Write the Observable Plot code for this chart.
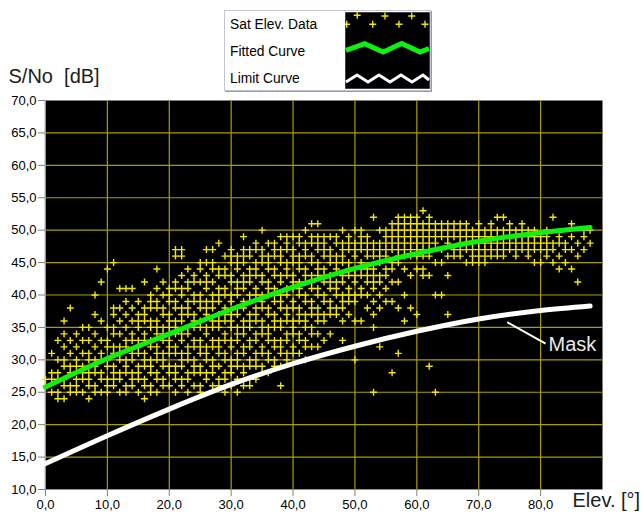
<!DOCTYPE html>
<html><head><meta charset="utf-8">
<script src="https://cdn.jsdelivr.net/npm/d3@7"></script>
<script src="https://cdn.jsdelivr.net/npm/@observablehq/plot@0.6"></script>
<style>
body{margin:0;background:#fff;font-family:"Liberation Sans",Arial,sans-serif;}
#wrap{position:relative;width:641px;height:515px;}
#legend{position:absolute;left:224px;top:10px;width:205px;height:79px;border:1px solid #c4c4d4;background:#fff;box-shadow:1px 1px 0 #9a9a9a;}
#legend .row{position:absolute;left:5px;font-size:13.8px;color:#000;line-height:16px;}
#legend svg{position:absolute;left:120px;top:1px;}
</style></head>
<body><div id="wrap"><div id="chart"></div>
<div id="legend">
 <div class="row" style="top:6px">Sat Elev. Data</div>
 <div class="row" style="top:33px">Fitted Curve</div>
 <div class="row" style="top:60px">Limit Curve</div>
 <svg width="85" height="77" viewBox="0 0 85 77">
  <rect x="0" y="0" width="85" height="77" fill="#000" stroke="#808080"/>
  <g stroke="#f0e800" stroke-width="1.4">
   <path d="M8.7,3.3h7M12.2,-0.2v7M36.5,4h7M40,0.5v7M63.2,4h7M66.7,0.5v7M-1.8,12.3h7M1.7,8.8v7M24.2,12.3h7M27.7,8.8v7M50.5,12.3h7M54,8.8v7M76.5,12.3h7M80,8.8v7"/>
  </g>
  <polyline points="1,38.3 19.7,31.6 38.3,40 56.7,31.6 75,40 84,36.6" fill="none" stroke="#10f010" stroke-width="5"/>
  <polyline points="1,70 12,63 23,70 34,63 45,70 56,63 67,70 78,63 84,68" fill="none" stroke="#fff" stroke-width="3"/>
 </svg>
</div></div>
<script>
// Satellite data: index = elevation [deg], values = S/No [dB]
const satElev = [
"26 27",
"25 27 28 31",
"24 25 27 28 30 33",
"24 26 27 29 30 32 34 36",
"25 26 28 29 31 33 38",
"25 26 27 29 30 32 34",
"25 27 28 29 31 33 35",
"24 26 27 28 30 31 33 35",
"25 26 28 29 30 32 34 37 40",
"25 27 28 30 31 33 36 42",
"25 26 27 29 30 32 33 35 44",
"26 27 28 29 31 32 34 35 37 38 45",
"25 27 28 30 31 32 34 36 38 41",
"25 26 28 29 30 32 33 35 37 39 41",
"26 27 28 30 31 33 34 36 38 41",
"25 27 28 29 31 32 33 35 36 37 39",
"24 26 27 29 30 31 33 34 36 37 38 42",
"25 26 28 29 30 32 33 35 36 38 39 40",
"25 27 28 30 31 32 34 35 36 38 39 41 44",
"26 27 29 30 31 33 34 35 37 38 40 42",
"26 28 29 31 32 33 35 36 37 39 40 41",
"25 27 28 29 31 32 34 35 36 38 39 41 42 46 47",
"26 27 29 30 31 33 34 36 37 38 40 41 43 46 47",
"25 27 28 30 31 32 34 35 37 38 39 41 42 44",
"26 28 29 30 32 33 35 36 37 39 40 42 43",
"25 26 28 29 31 32 33 35 36 38 39 40 42 44 45",
"27 28 30 31 32 34 35 37 38 39 41 42 43 45 47",
"26 28 29 30 32 33 35 36 38 39 40 42 44 45 47",
"26 27 29 31 32 33 35 36 37 39 40 41 43 44 48",
"25 27 28 30 31 33 34 36 37 38 40 41 43 44 46",
"26 28 29 30 32 33 35 36 37 39 40 42 43 45 46 47",
"25 27 29 30 31 33 34 35 37 38 40 41 42 44 45 46",
"26 28 29 31 32 34 35 36 38 39 41 42 43 45 46 47 49",
"26 27 29 30 32 33 35 36 37 39 40 42 43 44 46 47",
"27 29 30 31 33 34 36 37 38 40 41 43 44 45 47 48",
"28 29 31 32 34 35 36 38 39 40 42 43 45 46 47 50",
"28 30 31 33 34 35 37 38 40 41 42 44 45 46 48",
"29 30 32 33 35 36 37 39 40 41 43 44 46 47 48",
"26 29 31 32 33 35 36 38 39 40 42 43 45 46 47 49",
"30 31 33 34 36 37 38 40 41 43 44 45 47 48 49",
"31 32 34 35 36 38 39 41 42 43 45 46 47 49",
"31 33 34 36 37 38 40 41 42 44 45 46 48 49",
"30 32 33 35 36 37 39 40 42 43 44 46 47 48 50",
"32 34 35 37 38 39 41 42 43 45 46 48 49 51",
"32 34 36 37 38 40 41 43 44 45 47 48 49 51",
"33 36 37 39 40 42 43 44 46 47 48 49",
"34 37 38 39 41 42 43 45 46 47 49",
"37 38 40 41 42 44 45 46 48 49",
"33 36 38 39 40 42 43 45 46 47 48 50",
"37 39 40 41 43 44 45 47 48 49",
"30 36 39 40 42 43 44 46 47 48 50",
"36 40 41 43 44 45 47 48 49 50",
"38 40 42 43 44 46 47 48 49",
"25 35 37 39 41 42 43 44 46 47 48 52",
"32 38 40 42 43 45 46 47 48 50",
"39 41 43 44 46 47 48 49 50",
"28 39 42 44 45 47 48 49 50 51",
"31 38 42 45 46 47 48 49 50 51 52",
"36 40 44 46 47 48 49 50 51 52",
"38 43 46 47 48 49 50 51 52",
"37 44 46 47 48 49 50 51 52",
"43 44 46 47 48 49 50 51 53",
"29 43 46 47 48 49 50 51 52",
"25 40 45 48 49 50 51",
"40 45 47 49 50 51",
"37 43 46 48 49 50 51",
"46 47 49 50 51",
"46 47 48 49 50 51",
"45 47 48 49 50 51",
"45 46 47 48 49 50",
"45 46 47 48 49 50 51",
"45 46 47 48 49 50",
"46 47 48 49 50 51",
"46 47 48 49 50 52",
"46 47 48 49 50 52",
"47 48 49 50 51",
"46 47 48 49 50",
"47 48 49 50 51",
"46 47 48 49 50",
"45 47 48 49 50",
"45 47 48 49",
"46 47 48 49 50",
"45 47 48 52",
"44 46 48 49",
"45 47 48",
"44 47 49 51",
"42 46 48",
"47 49 50",
"48 50"
];
const fitElev = [0, 10, 20, 30, 40, 50, 60, 70, 80, 88];
const fitSNo  = [25.8, 30.2, 34.0, 37.8, 41.2, 44.1, 46.4, 48.3, 49.6, 50.4];
const maskElev = [0, 10, 20, 30, 40, 50, 60, 70, 80, 88];
const maskSNo  = [14.0, 18.3, 22.4, 26.2, 29.4, 32.1, 34.4, 36.3, 37.6, 38.3];
const xTicks = [0, 10, 20, 30, 40, 50, 60, 70, 80];
const yTicks = [10, 15, 20, 25, 30, 35, 40, 45, 50, 55, 60, 65, 70];
const maskLabel = {text: "Mask", fromElev: 74.6, fromSNo: 35.8, toElev: 80.8, toSNo: 32.5};

const points = [];
satElev.forEach((s, e) => s.split(" ").forEach(v => points.push({e, s: +v})));
const fit = fitElev.map((e, i) => ({e, s: fitSNo[i]}));
const mask = maskElev.map((e, i) => ({e, s: maskSNo[i]}));
const fmt = d => d.toFixed(1).replace(".", ",");
const plus = {draw(c) { c.moveTo(-3.5, 0); c.lineTo(3.5, 0); c.moveTo(0, -3.5); c.lineTo(0, 3.5); }};
const grid = "#a89e00";

const chart = Plot.plot({
  width: 641, height: 515,
  marginTop: 100, marginLeft: 45, marginRight: 39, marginBottom: 26,
  style: {fontFamily: "Liberation Sans, Arial, sans-serif", fontSize: "13px", background: "white", overflow: "visible"},
  x: {domain: [0, 90]},
  y: {domain: [10, 70]},
  marks: [
    Plot.frame({fill: "black", stroke: null}),
    Plot.gridX(xTicks.slice(1), {stroke: grid, strokeOpacity: 1, strokeWidth: 1.2}),
    Plot.gridY(yTicks.slice(0, -1), {stroke: grid, strokeOpacity: 1, strokeWidth: 1.2}),
    Plot.ruleX([0], {stroke: "#b0b0b0", dx: -0.5}),
    Plot.dot(points, {x: "e", y: "s", symbol: plus, stroke: "#f4e800", fill: "none", strokeWidth: 1.4}),
    Plot.line(mask, {x: "e", y: "s", stroke: "white", strokeWidth: 5, curve: "monotone-x"}),
    Plot.line(fit, {x: "e", y: "s", stroke: "#12f012", strokeWidth: 5, curve: "monotone-x"}),
    Plot.link([maskLabel], {x1: "fromElev", y1: "fromSNo", x2: "toElev", y2: "toSNo", stroke: "white", strokeWidth: 2}),
    Plot.text([maskLabel], {x: "toElev", y: "toSNo", text: "text", textAnchor: "start", dx: 3, dy: 1, fill: "#e8e8e8", fontSize: 20}),
    Plot.axisX(xTicks, {tickFormat: fmt, tickSize: 7, tickPadding: 3, stroke: "#808080", fill: "#000", fontSize: 13, label: null}),
    Plot.axisY(yTicks, {tickFormat: fmt, tickSize: 7, tickPadding: 2, stroke: "#808080", fill: "#000", fontSize: 13, label: null}),
    Plot.text(["S/No\u00a0 [dB]"], {frameAnchor: "top-left", dx: -37, dy: -32, textAnchor: "start", fontSize: 20, fill: "#202020"}),
    Plot.text(["Elev. [°]"], {frameAnchor: "bottom-right", dx: -30, dy: 17, textAnchor: "start", fontSize: 20, fill: "#202020"})
  ]
});
document.getElementById("chart").appendChild(chart);
</script>
</body></html>
